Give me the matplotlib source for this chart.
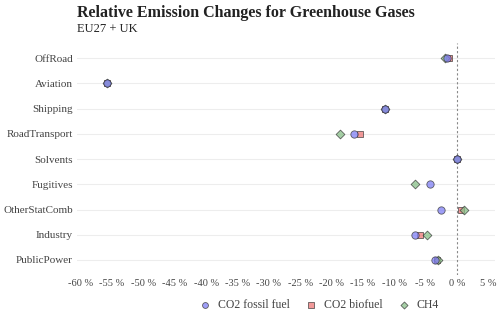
import numpy as np
import matplotlib
matplotlib.use("Agg")
import matplotlib.pyplot as plt

plt.rcParams['font.family'] = ['Liberation Serif', 'DejaVu Serif']

sectors = ["OffRoad", "Aviation", "Shipping", "RoadTransport", "Solvents",
           "Fugitives", "OtherStatComb", "Industry", "PublicPower"]
co2_fossil = [-1.5, -55.8, -11.5, -16.4, 0.0, -4.3, -2.5, -6.7, -3.4]
co2_bio = [-1.2, -55.8, -11.5, -15.5, 0.0, np.nan, 0.75, -5.9, -3.1]
ch4 = [-1.9, -55.8, -11.5, -18.6, 0.0, -6.7, 1.2, -4.8, -3.0]
xticks = list(range(-60, 6, 5))

fig = plt.figure(figsize=(5.0, 3.21), dpi=100)
ax = fig.add_axes([0.154, 0.143, 0.836, 0.723])

ypos = np.arange(len(sectors))[::-1]
ax.set_ylim(-0.6, len(sectors) - 0.4)
ax.set_xlim(-60.6, 6.1)

for y in ypos:
    ax.axhline(y, color='#ededed', lw=0.8, zorder=0)
ax.axvline(0, color='#888888', lw=0.8, ls=(0, (2, 2)), zorder=1)

series = [
    ("CO2 biofuel", co2_bio, 's', '#ee7777', 2, 22),
    ("CH4", ch4, 'D', '#88c088', 3, 20),
    ("CO2 fossil fuel", co2_fossil, 'o', '#7f7ff5', 4, 28),
]
handles = {}
for name, vals, mk, col, z, sz in series:
    handles[name] = ax.scatter(vals, ypos, marker=mk, s=sz, color=col,
                               alpha=0.75, edgecolor='#333333',
                               linewidth=0.6, zorder=z, label=name)

ax.set_yticks(ypos)
ax.set_yticklabels(sectors, fontsize=8, color='#444444')
ax.set_xticks(xticks)
ax.set_xticklabels([f"{t} %" for t in xticks], fontsize=7.5, color='#444444')
ax.tick_params(axis='y', length=0, pad=3)
ax.tick_params(axis='x', length=0, pad=3)
for s in ax.spines.values():
    s.set_visible(False)

fig.text(0.154, 0.96, "Relative Emission Changes for Greenhouse Gases",
         fontsize=11.5, fontweight='bold', va='center', color='#222222')
fig.text(0.154, 0.91, "EU27 + UK", fontsize=9, va='center', color='#222222')

order = ["CO2 fossil fuel", "CO2 biofuel", "CH4"]
leg = fig.legend([handles[k] for k in order], order, loc='center',
                 bbox_to_anchor=(0.632, 0.05), ncol=3, frameon=False,
                 fontsize=8.5, handletextpad=0.1, columnspacing=0.8,
                 markerscale=0.8)
for t in leg.get_texts():
    t.set_color('#444444')

fig.savefig("out.png", dpi=100)
